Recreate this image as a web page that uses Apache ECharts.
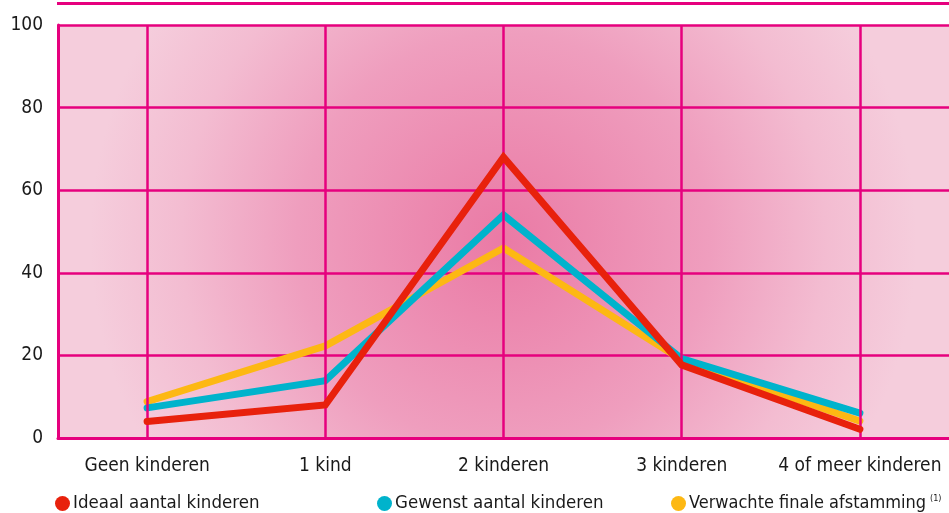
<!DOCTYPE html>
<html>
<head>
<meta charset="utf-8">
<script src="https://cdn.jsdelivr.net/npm/echarts@6/dist/echarts.min.js"></script>
<style>html,body{margin:0;padding:0;background:#fff}#c{width:949px;height:513px}</style>
</head>
<body>
<div id="c"></div>
<script>
var categories = ['Geen kinderen', '1 kind', '2 kinderen', '3 kinderen', '4 of meer kinderen'];
var ideaal = [4, 8, 68, 17.7, 2.1];
var gewenst = [7.3, 13.9, 54, 19.2, 6];
var verwacht = [8.8, 22.3, 46, 18.9, 4.1];
var yTicks = [0, 20, 40, 60, 80, 100];
var seriesNames = ['Ideaal aantal kinderen', 'Gewenst aantal kinderen', 'Verwachte finale afstamming'];

var FONT = "'DejaVu Sans Condensed','Liberation Sans Narrow',sans-serif";
var MAG = '#e6007e';
var colors = ['#e8210c', '#00b3cc', '#fdb813'];

var chart = echarts.init(document.getElementById('c'), null, {renderer: 'canvas'});

function legendFor(i, left, fs) {
  return {
    data: [seriesNames[i]],
    left: left,
    top: 494,
    icon: 'circle',
    itemWidth: 15,
    itemHeight: 15,
    itemGap: 0,
    padding: 0,
    selectedMode: false,
    formatter: i === 2 ? function (n) { return n + '{sup|(1)}'; } : '{name}',
    textStyle: {
      fontFamily: FONT, fontSize: fs, color: '#1a1a1a', padding: [0, 0, 0, -2],
      rich: { sup: { fontFamily: FONT, fontSize: 9, color: '#1a1a1a', verticalAlign: 'top', padding: [0, 0, 10, 4] } }
    }
  };
}

var option = {
  animation: false,
  backgroundColor: '#ffffff',
  grid: {
    left: 58, right: -1, top: 25, bottom: 75,
    show: true, borderWidth: 0,
    backgroundColor: {
      type: 'radial', x: 0.5, y: 0.52, r: 1.0,
      colorStops: [
        {offset: 0, color: '#ea7aa5'},
        {offset: 0.5, color: '#ef9ebe'},
        {offset: 0.78, color: '#f3bcd1'},
        {offset: 1, color: '#f5cddc'}
      ]
    }
  },
  graphic: [{
    type: 'rect', left: 57, top: 2, shape: {width: 892, height: 3},
    style: {fill: MAG}, silent: true
  }],
  legend: [legendFor(0, 55, 18.5), legendFor(1, 377, 18.5), legendFor(2, 671, 18)],
  xAxis: {
    type: 'category', data: categories, boundaryGap: true,
    axisLine: {show: true, lineStyle: {color: MAG, width: 3}},
    axisTick: {show: false},
    splitLine: {show: false},
    axisLabel: {fontFamily: FONT, fontSize: 19, color: '#1a1a1a', margin: 19, interval: 0}
  },
  yAxis: {
    type: 'value', min: 0, max: 100, interval: 20,
    axisLine: {show: true, lineStyle: {color: MAG, width: 3}},
    axisTick: {show: false},
    splitLine: {show: true, lineStyle: {color: MAG, width: 2.5}},
    axisLabel: {
      fontFamily: FONT, fontSize: 19, color: '#1a1a1a', margin: 15,
      padding: [0, 0, 10, 0],
      formatter: function (v) { return yTicks.indexOf(v) >= 0 ? String(v) : ''; }
    }
  },
  series: [
    {
      type: 'line', data: [], z: 1, silent: true,
      markLine: {
        silent: true, symbol: ['none', 'none'], label: {show: false},
        lineStyle: {color: MAG, width: 2.5, type: 'solid'},
        data: categories.map(function (c) { return {xAxis: c}; })
      }
    }
  ].concat(seriesNames.map(function (n, i) {
    return {
      name: n, type: 'line', z: 3 + (2 - i),
      data: [ideaal, gewenst, verwacht][i],
      symbol: 'none', showSymbol: false,
      itemStyle: {color: colors[i]},
      lineStyle: {color: colors[i], width: 7, cap: 'round', join: 'miter'}
    };
  }))
};
chart.setOption(option);
</script>
</body>
</html>
